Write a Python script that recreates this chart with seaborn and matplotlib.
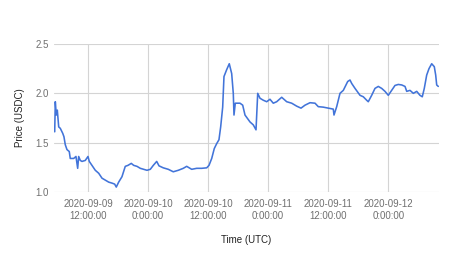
import matplotlib
matplotlib.use("Agg")
import matplotlib.pyplot as plt
import seaborn as sns
import pandas as pd

# hours since 2020-09-09 00:00 UTC
hours = [5.35, 5.47, 5.67, 5.87, 6.15, 6.47, 6.95, 7.20, 7.46, 7.80, 8.26, 8.46,
         9.14, 9.60, 9.94, 10.14, 10.46, 10.80, 11.46, 12.00, 12.26, 12.80,
         13.46, 14.14, 14.80, 15.46, 16.14, 16.80, 17.33, 17.65, 18.13, 18.79,
         19.45, 19.99, 20.65, 21.13, 21.79, 22.45, 23.13, 23.79, 24.45, 25.05,
         25.73, 26.19, 27.04, 28.04, 29.04, 30.04, 31.04, 31.72, 32.72, 33.72,
         34.72, 35.72, 36.18, 36.72, 37.23, 37.71, 38.17, 38.51, 38.91, 39.17,
         39.71, 40.23, 40.71, 41.03, 41.17, 41.43, 42.37, 42.91, 43.37, 44.37,
         45.03, 45.57, 45.91, 46.37, 47.03, 47.71, 48.36, 49.02, 49.70, 50.70,
         51.70, 52.70, 53.70, 54.56, 55.36, 56.36, 57.36, 58.01, 59.01, 60.01,
         61.01, 61.15, 61.69, 62.35, 63.01, 63.89, 64.35, 64.69, 65.35, 66.35,
         67.01, 67.68, 68.00, 68.68, 69.34, 70.00, 70.68, 71.34, 72.00, 72.68,
         73.34, 74.00, 74.68, 75.34, 75.68, 76.34, 77.00, 77.68, 78.33, 78.79,
         79.19, 79.67, 80.13, 80.67, 81.19, 81.47, 81.67, 81.99]
price = [1.61, 1.915, 1.78, 1.83, 1.66, 1.645, 1.595, 1.56, 1.48, 1.43, 1.41, 1.34,
         1.34, 1.36, 1.24, 1.36, 1.32, 1.31, 1.32, 1.36, 1.31, 1.27,
         1.22, 1.19, 1.14, 1.12, 1.10, 1.09, 1.08, 1.05, 1.10, 1.155,
         1.26, 1.27, 1.29, 1.27, 1.26, 1.24, 1.23, 1.22, 1.23, 1.27,
         1.31, 1.265, 1.245, 1.23, 1.205, 1.22, 1.24, 1.26, 1.23, 1.24,
         1.24, 1.245, 1.27, 1.34, 1.44, 1.49, 1.53, 1.66, 1.86, 2.17,
         2.24, 2.30, 2.20, 2.00, 1.78, 1.90, 1.90, 1.88, 1.78, 1.71,
         1.68, 1.63, 2.00, 1.95, 1.93, 1.915, 1.94, 1.90, 1.915, 1.96,
         1.915, 1.90, 1.87, 1.85, 1.88, 1.905, 1.90, 1.865, 1.86, 1.85,
         1.84, 1.78, 1.865, 2.00, 2.03, 2.12, 2.135, 2.10, 2.05, 1.98,
         1.965, 1.93, 1.915, 1.98, 2.05, 2.07, 2.05, 2.02, 1.98, 2.03,
         2.08, 2.09, 2.085, 2.07, 2.02, 2.03, 2.00, 2.02, 1.98, 1.965,
         2.05, 2.185, 2.25, 2.30, 2.27, 2.185, 2.085, 2.07]

tick_labels = ["2020-09-09\n12:00:00", "2020-09-10\n0:00:00", "2020-09-10\n12:00:00",
               "2020-09-11\n0:00:00", "2020-09-11\n12:00:00", "2020-09-12\n0:00:00"]
tick_hours = [12, 24, 36, 48, 60, 72]
y_ticks = [1.0, 1.5, 2.0, 2.5]

base = pd.Timestamp("2020-09-09 00:00")
df = pd.DataFrame({"Time (UTC)": base + pd.to_timedelta(hours, unit="h"),
                   "Price (USDC)": price})

sns.set_theme(style="white")
plt.rcParams["font.family"] = ["Liberation Sans", "DejaVu Sans"]

fig = plt.figure(figsize=(4.51, 2.54), dpi=100)
ax = fig.add_axes([54/451, 1-192/254, (439-54)/451, (192-44)/254])

sns.lineplot(data=df, x="Time (UTC)", y="Price (USDC)", ax=ax,
             color="#4274d9", linewidth=1.15)

ax.set_xlim(base + pd.Timedelta(hours=5.21), base + pd.Timedelta(hours=82.13))
ax.set_ylim(1.0, 2.5)
ax.set_yticks(y_ticks)
ax.set_yticklabels([f"{v:.1f}" for v in y_ticks])
ax.set_xticks([base + pd.Timedelta(hours=h) for h in tick_hours])
ax.set_xticklabels(tick_labels, linespacing=1.25)

ax.grid(True, color="#d4d4d4", linewidth=0.8)
for s in ax.spines.values():
    s.set_visible(False)
ax.tick_params(axis="both", length=0, labelsize=7, colors="#707070")
ax.tick_params(axis="x", pad=5)
ax.tick_params(axis="y", pad=4)
ax.set_xlabel("Time (UTC)", fontsize=7, color="#222222", labelpad=10)
ax.set_ylabel("Price (USDC)", fontsize=7, color="#222222", labelpad=7)

fig.savefig("out.png", dpi=100, facecolor="white")
